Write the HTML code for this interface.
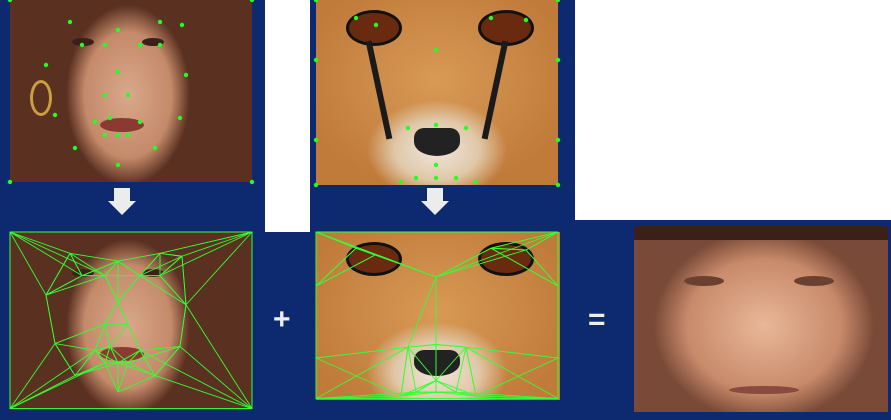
<!DOCTYPE html>
<html><head><meta charset="utf-8"><style>
body{margin:0;width:891px;height:420px;overflow:hidden;background:#fff;font-family:"Liberation Sans",sans-serif}
.abs{position:absolute}
.f{position:absolute;border-radius:50%}
</style></head><body>
<div class="abs" style="left:0;top:0;width:891px;height:420px;">
<div class="abs" style="left:0;top:0;width:265px;height:232px;background:#0d2a70"></div>
<div class="abs" style="left:310px;top:0;width:265px;height:232px;background:#0d2a70"></div>
<div class="abs" style="left:0;top:222px;width:265px;height:198px;background:#0d2a70"></div>
<div class="abs" style="left:265px;top:232px;width:45px;height:188px;background:#0d2a70"></div>
<div class="abs" style="left:310px;top:220px;width:581px;height:200px;background:#0d2a70"></div>

<div class="abs" style="left:10px;top:0;width:242px;height:182px;background:radial-gradient(ellipse 62px 90px at 118px 95px,#d9a88a 0,#c48a6a 70%,#5a3020 100%),#4a2818;overflow:hidden">
<div class="f" style="left:62px;top:38px;width:22px;height:8px;background:#3a2018"></div>
<div class="f" style="left:132px;top:38px;width:22px;height:8px;background:#3a2018"></div>
<div class="f" style="left:90px;top:118px;width:44px;height:14px;background:#8a3a30"></div>
<div class="f" style="left:20px;top:80px;width:16px;height:30px;border:3px solid #c9a040;background:transparent"></div>
</div>
<div class="abs" style="left:316px;top:0;width:242px;height:185px;background:radial-gradient(ellipse 70px 50px at 121px 150px,#efe6dc 0,#e0c8a8 60%,transparent 100%),radial-gradient(ellipse 140px 110px at 121px 80px,#d89a55 0,#c07a3a 100%);overflow:hidden">
<div class="f" style="left:30px;top:10px;width:50px;height:30px;background:#6a2a10;border:3px solid #111"></div>
<div class="f" style="left:162px;top:10px;width:50px;height:30px;background:#6a2a10;border:3px solid #111"></div>
<div class="abs" style="left:98px;top:128px;width:46px;height:28px;background:#222;border-radius:10px 10px 50% 50%"></div>
<div class="abs" style="left:60px;top:40px;width:6px;height:100px;background:#1a1a1a;transform:rotate(-12deg)"></div>
<div class="abs" style="left:176px;top:40px;width:6px;height:100px;background:#1a1a1a;transform:rotate(12deg)"></div>
</div>
<div class="abs" style="left:10px;top:232px;width:242px;height:178px;background:radial-gradient(ellipse 62px 88px at 118px 95px,#d9a88a 0,#c48a6a 70%,#5a3020 100%),#4a2818;overflow:hidden">
<div class="f" style="left:62px;top:37px;width:22px;height:8px;background:#3a2018"></div>
<div class="f" style="left:132px;top:37px;width:22px;height:8px;background:#3a2018"></div>
<div class="f" style="left:90px;top:115px;width:44px;height:14px;background:#8a3a30"></div>
</div>
<div class="abs" style="left:316px;top:232px;width:244px;height:168px;background:radial-gradient(ellipse 70px 50px at 121px 140px,#efe6dc 0,#e0c8a8 60%,transparent 100%),radial-gradient(ellipse 140px 110px at 121px 80px,#d89a55 0,#c07a3a 100%);overflow:hidden">
<div class="f" style="left:30px;top:10px;width:50px;height:28px;background:#6a2a10;border:3px solid #111"></div>
<div class="f" style="left:162px;top:10px;width:50px;height:28px;background:#6a2a10;border:3px solid #111"></div>
<div class="abs" style="left:98px;top:118px;width:46px;height:26px;background:#222;border-radius:10px 10px 50% 50%"></div>
</div>
<div class="abs" style="left:634px;top:226px;width:254px;height:186px;background:radial-gradient(ellipse 110px 95px at 130px 100px,#e8b898 0,#c88a6a 70%,#7a4a38 100%);overflow:hidden">
<div class="abs" style="left:0;top:0;width:254px;height:14px;background:#3a2018"></div>
<div class="f" style="left:50px;top:50px;width:40px;height:10px;background:#6a4030"></div>
<div class="f" style="left:160px;top:50px;width:40px;height:10px;background:#6a4030"></div>
<div class="f" style="left:95px;top:160px;width:70px;height:8px;background:#8a4a40"></div>
</div>
<div class="abs" style="left:110px;top:188px;width:0;height:0;"><div class="abs" style="left:4px;top:0;width:16px;height:14px;background:#ececec"></div><div class="abs" style="left:-2px;top:13px;border-left:14px solid transparent;border-right:14px solid transparent;border-top:14px solid #ececec"></div></div>
<div class="abs" style="left:423px;top:188px;width:0;height:0;"><div class="abs" style="left:4px;top:0;width:16px;height:14px;background:#ececec"></div><div class="abs" style="left:-2px;top:13px;border-left:14px solid transparent;border-right:14px solid transparent;border-top:14px solid #ececec"></div></div>
<div class="abs" style="left:273px;top:303px;font-size:30px;font-weight:bold;color:#eee">+</div>
<div class="abs" style="left:588px;top:303px;font-size:30px;font-weight:bold;color:#eee">=</div>
<svg class="abs" width="891" height="420" style="left:0;top:0" id="ov"></svg>
</div>
<script>
const facePts=[[0,0],[242,0],[0,182],[242,182],[60,22],[108,30],[150,22],[172,25],[36,65],[176,75],[72,45],[95,45],[130,45],[150,45],[108,72],[95,95],[118,95],[100,118],[85,122],[130,122],[108,135],[95,135],[118,135],[108,165],[65,148],[145,148],[45,115],[170,118]];
const cheetahPts=[[0,0],[242,0],[0,185],[242,185],[40,18],[60,25],[120,50],[175,18],[210,20],[92,128],[120,125],[150,128],[120,165],[100,178],[140,178],[85,182],[160,182],[120,178],[0,60],[242,60],[0,140],[242,140]];
const svg=document.getElementById('ov');const NS='http://www.w3.org/2000/svg';
function dots(pts,ox,oy,sx,sy){pts.forEach(p=>{const c=document.createElementNS(NS,'circle');


c.setAttribute('cx',ox+p[0]*sx);c.setAttribute('cy',oy+p[1]*sy);c.setAttribute('r',2.2);c.setAttribute('fill','#22ff22');svg.appendChild(c);});}
function mesh(pts,ox,oy,sx,sy){for(let i=0;i<pts.length;i++){const d=pts.map((q,j)=>[j,Math.hypot(q[0]-pts[i][0],q[1]-pts[i][1])]).filter(a=>a[0]!==i).sort((a,b)=>a[1]-b[1]).slice(0,4);
d.forEach(a=>{const q=pts[a[0]];const l=document.createElementNS(NS,'line');


l.setAttribute('x1',ox+pts[i][0]*sx);l.setAttribute('y1',oy+pts[i][1]*sy);l.setAttribute('x2',ox+q[0]*sx);l.setAttribute('y2',oy+q[1]*sy);l.setAttribute('stroke','#33ff33');l.setAttribute('stroke-width','0.9');svg.appendChild(l);});}
const r=document.createElementNS(NS,'rect');r.setAttribute('x',ox);r.setAttribute('y',oy);r.setAttribute('width',242*sx);r.setAttribute('height',pts.reduce((m,p)=>Math.max(m,p[1]),0)*sy);r.setAttribute('fill','none');r.setAttribute('stroke','#33ff33');svg.appendChild(r);}
dots(facePts,10,0,1,1);dots(cheetahPts,316,0,1,1);
mesh(facePts,10,232,1,0.97);mesh(cheetahPts,316,232,1,0.9);
</script>
</body></html>
